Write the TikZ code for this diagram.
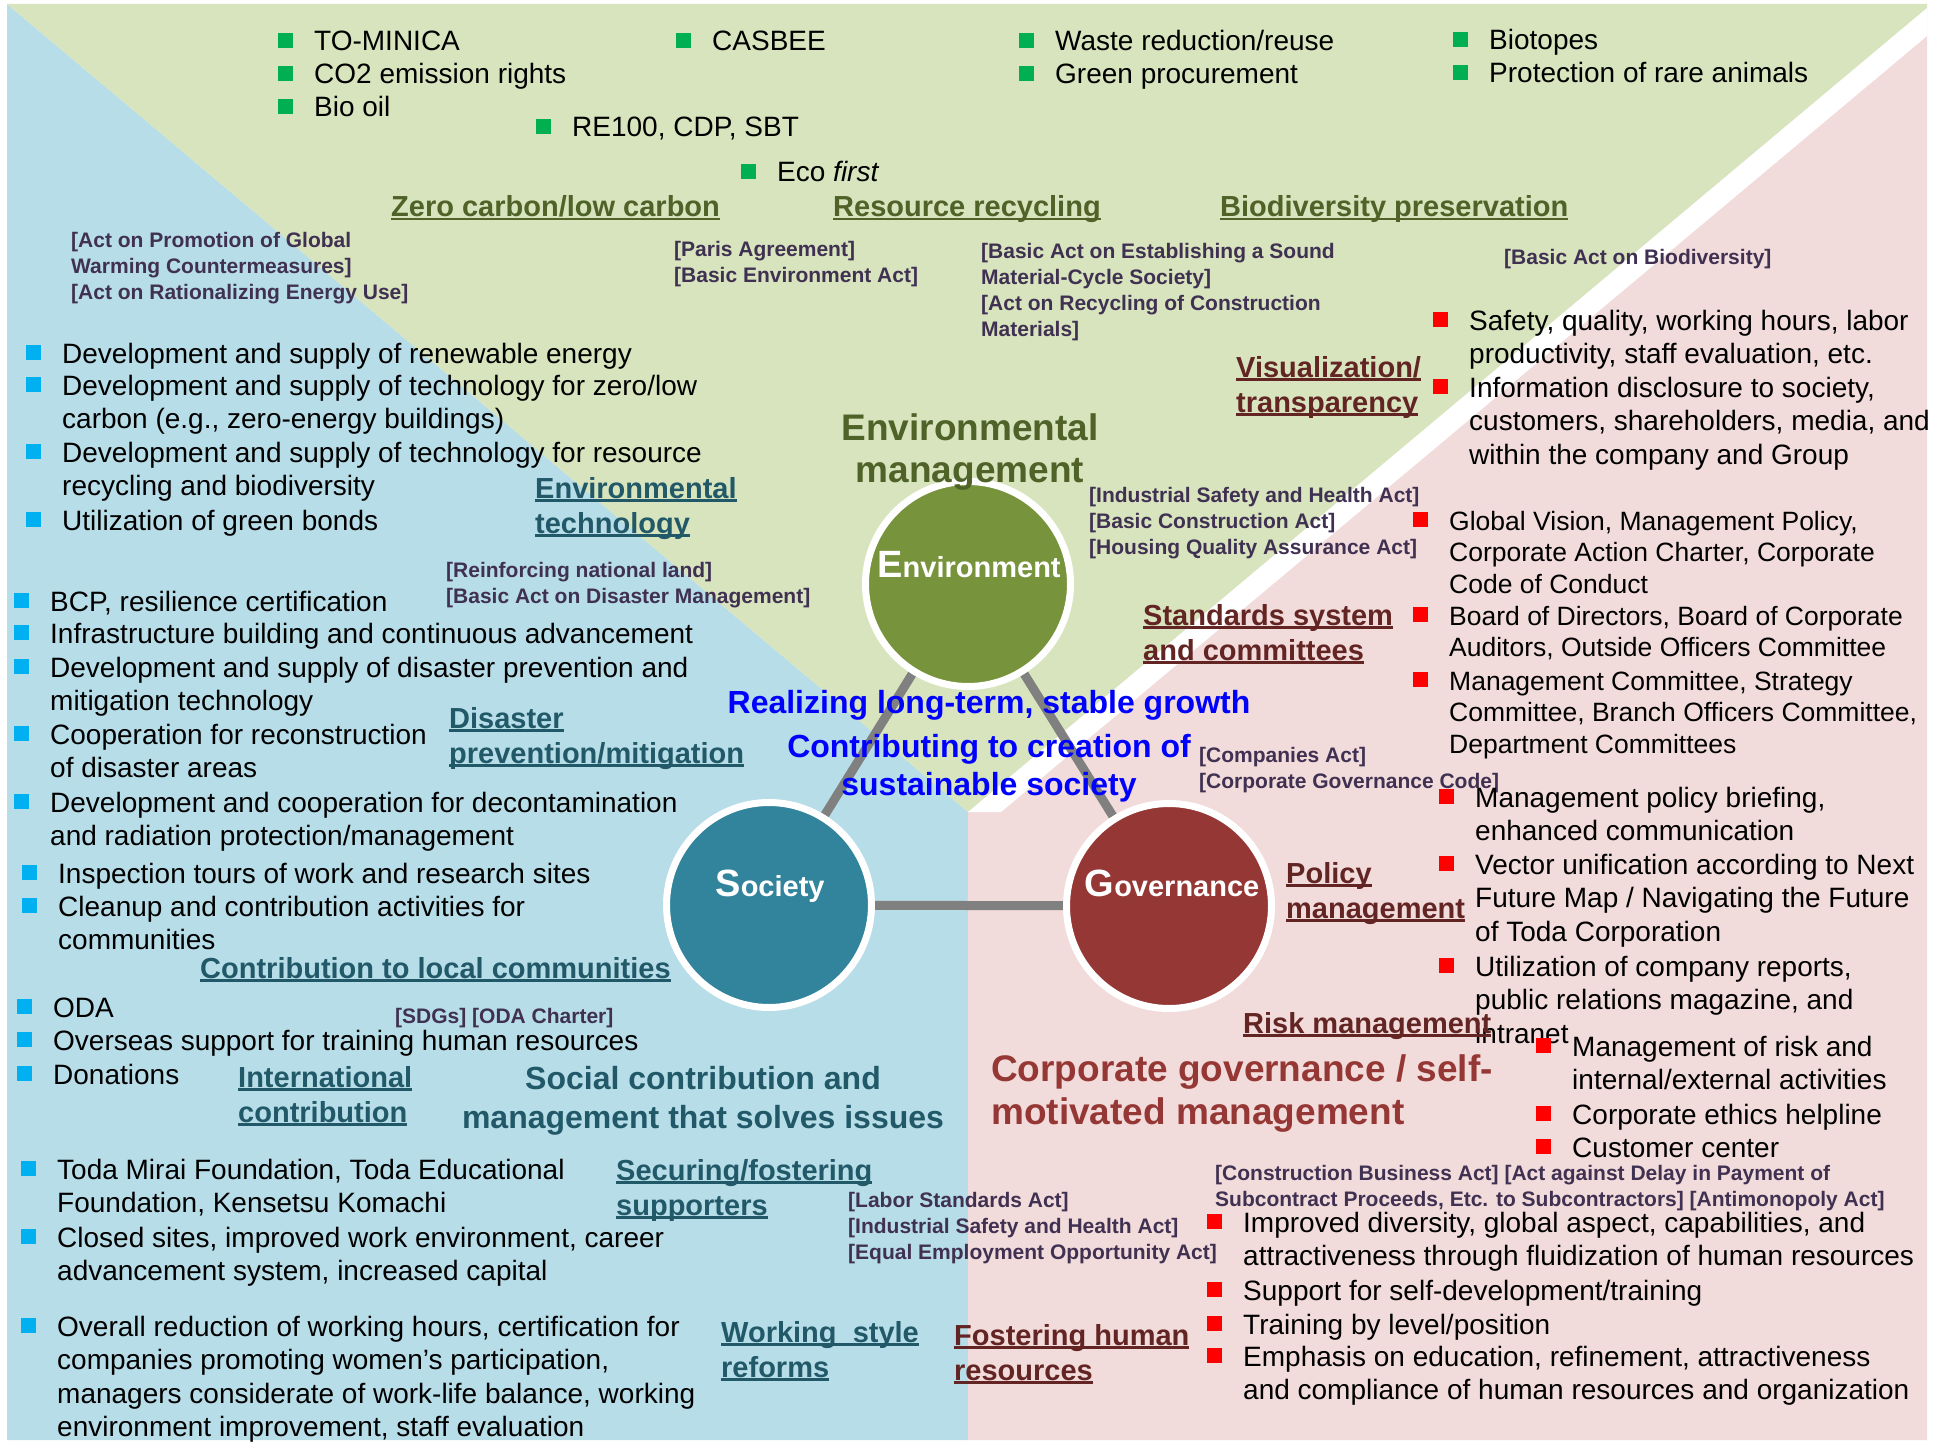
\documentclass[tikz,border=0pt]{standalone}
\usepackage{fontspec}
\setmainfont{Liberation Sans}

\definecolor{envbg}{HTML}{D7E4BD}
\definecolor{socbg}{HTML}{B7DDE8}
\definecolor{govbg}{HTML}{F2DCDB}
\definecolor{envc}{HTML}{77933C}
\definecolor{socc}{HTML}{31849B}
\definecolor{govc}{HTML}{953735}
\definecolor{envdark}{HTML}{4F6228}
\definecolor{socdark}{HTML}{215968}
\definecolor{govdark}{HTML}{632523}
\definecolor{actc}{HTML}{403152}
\definecolor{bgreen}{HTML}{00B050}
\definecolor{bblue}{HTML}{00B0F0}
\definecolor{bred}{HTML}{FF0000}
\definecolor{linkgray}{HTML}{808080}

\newcommand{\bsq}[1]{\makebox[36pt][l]{\textcolor{#1}{\rule[3pt]{15pt}{15pt}}}}
\newcommand{\ind}{\hspace*{36pt}}
\newcommand{\uln}[1]{\setbox0=\hbox{#1}\rlap{\rule[-3.5pt]{\wd0}{2.2pt}}\box0}

\pgfdeclarelayer{back}
\pgfdeclarelayer{mid}
\pgfsetlayers{back,mid,main}

% multi-line nodes are placed by the baseline of their last line
\tikzset{
  item/.style={anchor=base west, inner sep=0pt, align=left, font=\fontsize{28}{33.5}\selectfont},
  itemsm/.style={item, font=\fontsize{26.5}{31.7}\selectfont},
  act/.style={anchor=base west, inner sep=0pt, align=left, text=actc, font=\bfseries\fontsize{21}{26}\selectfont},
  envhead/.style={anchor=base west, inner sep=0pt, align=left, text=envdark, font=\bfseries\fontsize{29}{35}\selectfont},
  sochead/.style={envhead, text=socdark},
  govhead/.style={envhead, text=govdark},
  pillar/.style={circle, draw=white, line width=7pt, minimum size=205pt, inner sep=0pt},
  pillarlbl/.style={anchor=base, inner sep=0pt, text=white, font=\bfseries\fontsize{29}{29}\selectfont},
  link/.style={line width=9pt, draw=linkgray},
}

\begin{document}
\begin{tikzpicture}[x=1pt,y=-1pt]
\useasboundingbox (0,0) rectangle (1933,1447);

% three coloured fields
\begin{pgfonlayer}{back}
  \fill[white] (0,0) rectangle (1933,1447);
  \fill[socbg] (7,4) -- (968,812) -- (968,1440) -- (7,1440) -- cycle;
  \fill[govbg] (968,812) -- (1927,8) -- (1927,1440) -- (968,1440) -- cycle;
  \fill[envbg] (7,4) -- (1927,4) -- (1927,8) -- (968,812) -- cycle;
  \fill[white] (968,812) -- (1927,8) -- (1927,36) -- (1001,812) -- cycle;
\end{pgfonlayer}

% pillars
\node[pillar, fill=envc] (env) at (968,584) {};
\node[pillar, fill=socc] (soc) at (769,905) {};
\node[pillar, fill=govc] (gov) at (1169,906) {};
\begin{pgfonlayer}{mid}
  \draw[link] (env) -- (soc);
  \draw[link] (env) -- (gov);
  \draw[link] (soc) -- (gov);
\end{pgfonlayer}
\node[pillarlbl] (envlbl) at (969,577) {{\fontsize{38}{38}\selectfont E}nvironment};
\node[pillarlbl] (soclbl) at (770,896) {{\fontsize{38}{38}\selectfont S}ociety};
\node[pillarlbl] (govlbl) at (1172,896) {{\fontsize{38}{38}\selectfont G}overnance};

% titles
\node[anchor=base, inner sep=0pt, align=center, text=envdark, font=\bfseries\fontsize{37}{42}\selectfont] (envtitle) at (970,482) {Environmental\\management};
\node[anchor=base, inner sep=0pt, align=center, text=socdark, font=\bfseries\fontsize{32}{39}\selectfont] (soctitle) at (703,1128) {Social contribution and\\management that solves issues};
\node[anchor=base west, inner sep=0pt, align=left, text=govc, font=\bfseries\fontsize{37}{43}\selectfont] (govtitle) at (991,1124) {Corporate governance / self-\\motivated management};
\node[anchor=base, inner sep=0pt, text=blue, font=\bfseries\fontsize{32}{38}\selectfont] (growth) at (989,713) {Realizing long-term, stable growth};
\node[anchor=base, inner sep=0pt, align=center, text=blue, font=\bfseries\fontsize{32}{38}\selectfont] (contrib) at (989,795) {Contributing to creation of\\sustainable society};

% environment: items
\node[item] (tominica) at (278,51) {\bsq{bgreen}TO-MINICA};
\node[item] (co2) at (278,84) {\bsq{bgreen}CO2 emission rights};
\node[item] (biooil) at (278,117) {\bsq{bgreen}Bio oil};
\node[item] (casbee) at (676,51) {\bsq{bgreen}CASBEE};
\node[item] (re100) at (536,137) {\bsq{bgreen}RE100, CDP, SBT};
\node[item] (ecofirst) at (741,182) {\bsq{bgreen}Eco \textit{first}};
\node[item] (waste) at (1019,51) {\bsq{bgreen}Waste reduction/reuse};
\node[item] (greenproc) at (1019,84) {\bsq{bgreen}Green procurement};
\node[item] (biotopes) at (1453,50) {\bsq{bgreen}Biotopes};
\node[item] (rare) at (1453,83) {\bsq{bgreen}Protection of rare animals};

\node[envhead] (zerocarbon) at (391,217) {\uln{Zero carbon/low carbon}};
\node[envhead] (recycling) at (833,217) {\uln{Resource recycling}};
\node[envhead] (biodiv) at (1220,217) {\uln{Biodiversity preservation}};

\node[act] (actglobal) at (71,300) {{[}Act on Promotion of Global\\Warming Countermeasures]\\{[}Act on Rationalizing Energy Use]};
\node[act] (actparis) at (674,283) {{[}Paris Agreement]\\{[}Basic Environment Act]};
\node[act] (actcycle) at (981,337) {{[}Basic Act on Establishing a Sound\\Material-Cycle Society]\\{[}Act on Recycling of Construction\\Materials]};
\node[act] (actbio) at (1504,265) {{[}Basic Act on Biodiversity]};

% society: items
\node[item] (renew) at (26,363) {\bsq{bblue}Development and supply of renewable energy};
\node[item] (zeb) at (26,428.5) {\bsq{bblue}Development and supply of technology for zero/low\\\ind carbon (e.g., zero-energy buildings)};
\node[item] (resrec) at (26,495.5) {\bsq{bblue}Development and supply of technology for resource\\\ind recycling and biodiversity};
\node[item] (bonds) at (26,530) {\bsq{bblue}Utilization of green bonds};
\node[sochead] (envtech) at (535,533) {\uln{Environmental}\\\uln{technology}};
\node[act] (actland) at (446,603) {{[}Reinforcing national land]\\{[}Basic Act on Disaster Management]};

\node[item] (bcp) at (14,611) {\bsq{bblue}BCP, resilience certification};
\node[item] (infra) at (14,643) {\bsq{bblue}Infrastructure building and continuous advancement};
\node[item] (prevent) at (14,710.5) {\bsq{bblue}Development and supply of disaster prevention and\\\ind mitigation technology};
\node[item] (reconst) at (14,777.5) {\bsq{bblue}Cooperation for reconstruction\\\ind of disaster areas};
\node[item] (decont) at (14,845.5) {\bsq{bblue}Development and cooperation for decontamination\\\ind and radiation protection/management};
\node[sochead] (disaster) at (449,763) {\uln{Disaster}\\\uln{prevention/mitigation}};

\node[item] (tours) at (22,883) {\bsq{bblue}Inspection tours of work and research sites};
\node[item] (cleanup) at (22,949.5) {\bsq{bblue}Cleanup and contribution activities for\\\ind communities};
\node[sochead] (local) at (200,978) {\uln{Contribution to local communities}};

\node[item] (oda) at (17,1017) {\bsq{bblue}ODA};
\node[item] (overseas) at (17,1050) {\bsq{bblue}Overseas support for training human resources};
\node[item] (donate) at (17,1084) {\bsq{bblue}Donations};
\node[act] (actsdg) at (395,1023) {{[}SDGs] {[}ODA Charter]};
\node[sochead] (intl) at (238,1122) {\uln{International}\\\uln{contribution}};

\node[item] (mirai) at (21,1212.5) {\bsq{bblue}Toda Mirai Foundation, Toda Educational\\\ind Foundation, Kensetsu Komachi};
\node[item] (closed) at (21,1280.5) {\bsq{bblue}Closed sites, improved work environment, career\\\ind advancement system, increased capital};
\node[sochead] (supporters) at (616,1215) {\uln{Securing/fostering}\\\uln{supporters}};
\node[act] (actlabor) at (848,1259) {{[}Labor Standards Act]\\{[}Industrial Safety and Health Act]\\{[}Equal Employment Opportunity Act]};

\node[item] (hours) at (21,1436.5) {\bsq{bblue}Overall reduction of working hours, certification for\\\ind companies promoting women’s participation,\\\ind managers considerate of work-life balance, working\\\ind environment improvement, staff evaluation};
\node[sochead] (workstyle) at (721,1377) {\uln{Working\ \ style}\\\uln{reforms}};

% governance: items
\node[item] (safety) at (1433,363.5) {\bsq{bred}Safety, quality, working hours, labor\\\ind productivity, staff evaluation, etc.};
\node[item] (disclose) at (1433,464) {\bsq{bred}Information disclosure to society,\\\ind customers, shareholders, media, and\\\ind within the company and Group};
\node[govhead] (visual) at (1236,412) {\uln{Visualization/}\\\uln{transparency}};
\node[act] (actsafety) at (1089,554) {{[}Industrial Safety and Health Act]\\{[}Basic Construction Act]\\{[}Housing Quality Assurance Act]};

\node[itemsm] (vision) at (1413,593.4) {\bsq{bred}Global Vision, Management Policy,\\\ind Corporate Action Charter, Corporate\\\ind Code of Conduct};
\node[itemsm] (board) at (1413,656.7) {\bsq{bred}Board of Directors, Board of Corporate\\\ind Auditors, Outside Officers Committee};
\node[itemsm] (mgmtcom) at (1413,753.4) {\bsq{bred}Management Committee, Strategy\\\ind Committee, Branch Officers Committee,\\\ind Department Committees};
\node[govhead] (standards) at (1143,660) {\uln{Standards system}\\\uln{and committees}};
\node[act] (actcomp) at (1199,788) {{[}Companies Act]\\{[}Corporate Governance Code]};

\node[item] (briefing) at (1439,840.5) {\bsq{bred}Management policy briefing,\\\ind enhanced communication};
\node[item] (vector) at (1439,941) {\bsq{bred}Vector unification according to Next\\\ind Future Map / Navigating the Future\\\ind of Toda Corporation};
\node[item] (reports) at (1439,1043) {\bsq{bred}Utilization of company reports,\\\ind public relations magazine, and\\\ind intranet};
\node[govhead] (policy) at (1286,918) {\uln{Policy}\\\uln{management}};
\node[govhead] (risk) at (1243,1033) {\uln{Risk management}};

\node[item] (riskmgmt) at (1536,1089.5) {\bsq{bred}Management of risk and\\\ind internal/external activities};
\node[item] (ethics) at (1536,1124) {\bsq{bred}Corporate ethics helpline};
\node[item] (customer) at (1536,1157) {\bsq{bred}Customer center};
\node[act] (actbusiness) at (1215,1206) {{[}Construction Business Act] {[}Act against Delay in Payment of\\Subcontract Proceeds, Etc. to Subcontractors] {[}Antimonopoly Act]};

\node[item] (diversity) at (1207,1265.5) {\bsq{bred}Improved diversity, global aspect, capabilities, and\\\ind attractiveness through fluidization of human resources};
\node[item] (selfdev) at (1207,1300) {\bsq{bred}Support for self-development/training};
\node[item] (level) at (1207,1334) {\bsq{bred}Training by level/position};
\node[item] (emphasis) at (1207,1399.5) {\bsq{bred}Emphasis on education, refinement, attractiveness\\\ind and compliance of human resources and organization};
\node[govhead] (fostering) at (954,1380) {\uln{Fostering human}\\\uln{resources}};
\end{tikzpicture}
\end{document}
